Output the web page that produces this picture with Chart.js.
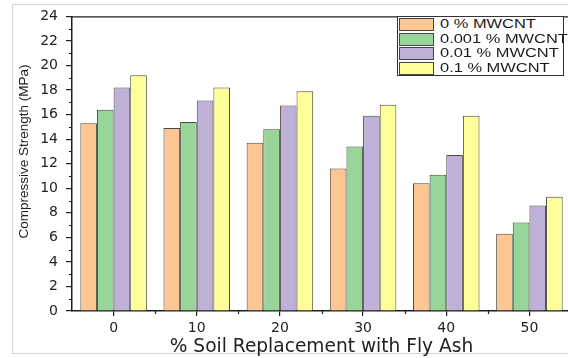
<!DOCTYPE html>
<html>
<head>
<meta charset="utf-8">
<script src="https://cdn.jsdelivr.net/npm/chart.js@4.4.1/dist/chart.umd.min.js"></script>
<style>
  html, body { margin: 0; padding: 0; background: #fff; overflow: hidden; }
  #wrap { position: relative; width: 568px; height: 358px; overflow: hidden; }
  #frame { position: absolute; left: 12px; top: 4px; width: 620px; height: 350px; border: 1px solid #d4d4d4; box-sizing: border-box; }
  #chart { position: absolute; left: 0; top: 0; }
  #legend { position: absolute; left: 397px; top: 16px; width: 167px; height: 60px; border: 1px solid #333; background: #fff; box-sizing: border-box; }
  .row { position: absolute; left: 1px; height: 13px; }
  .sw { position: absolute; left: 0; top: 0; width: 35px; height: 13px; border: 1px solid #444; box-sizing: border-box; }
  .lbl { position: absolute; left: 41px; top: -1px; white-space: nowrap; font: 12px 'Liberation Sans', Arial, sans-serif; color: #1a1a1a; transform: scaleX(1.37); transform-origin: left center; line-height: 15px; }
</style>
</head>
<body>
<div id="wrap">
  <div id="frame"></div>
  <canvas id="chart" width="574" height="358"></canvas>
  <div id="legend"></div>
</div>
<script>
const categories = ['0', '10', '20', '30', '40', '50'];
const seriesNames = ['0 % MWCNT', '0.001 % MWCNT', '0.01 % MWCNT', '0.1 % MWCNT'];
const mw0 = [15.3, 14.9, 13.7, 11.6, 10.4, 6.3];
const mw0001 = [16.4, 15.4, 14.8, 13.4, 11.1, 7.2];
const mw001 = [18.2, 17.15, 16.75, 15.9, 12.7, 8.6];
const mw01 = [19.2, 18.2, 17.9, 16.8, 15.9, 9.3];
const yTicksMax = 24;
const yTitle = 'Compressive Strength (MPa)';

const COLORS = {
  orange: '#FDC693',
  green: '#98D599',
  purple: '#BFB0D8',
  yellow: '#FFFF99',
  edge: '#4a4a40',
  axis: '#1e1e1e',
  text: '#222',
};
const fills = [COLORS.orange, COLORS.green, COLORS.purple, COLORS.yellow];
const values = [mw0, mw0001, mw001, mw01];

// minor ticks, top frame line and the y title (sits a bit above centre in the original)
const axisExtras = {
  id: 'axisExtras',
  afterDraw(chart) {
    const { ctx, chartArea, scales: { x, y } } = chart;
    ctx.save();
    ctx.strokeStyle = COLORS.axis;
    ctx.lineWidth = 1.2;
    ctx.beginPath();
    ctx.moveTo(chartArea.left, chartArea.top + 0.5);
    ctx.lineTo(chartArea.right + 5, chartArea.top + 0.5);
    for (let v = 1; v < yTicksMax; v += 2) {
      const py = Math.round(y.getPixelForValue(v)) + 0.5;
      ctx.moveTo(chartArea.left - 3, py);
      ctx.lineTo(chartArea.left, py);
    }
    for (let i = 1; i < categories.length; i++) {
      const px = Math.round(x.getPixelForValue(i - 0.5)) + 0.5;
      ctx.moveTo(px, chartArea.bottom);
      ctx.lineTo(px, chartArea.bottom + 3);
    }
    ctx.stroke();

    ctx.translate(24, y.getPixelForValue(13));
    ctx.rotate(-Math.PI / 2);
    ctx.fillStyle = COLORS.text;
    ctx.font = "13.5px 'Liberation Sans'";
    ctx.textAlign = 'center';
    ctx.textBaseline = 'middle';
    ctx.fillText(yTitle, 0, 0);
    ctx.restore();
  },
};

new Chart(document.getElementById('chart'), {
  type: 'bar',
  data: {
    labels: categories,
    datasets: values.map((data, i) => ({
      label: seriesNames[i],
      data,
      backgroundColor: fills[i],
      borderColor: COLORS.edge,
      borderWidth: 1,
      categoryPercentage: 0.8,
      barPercentage: 1.0,
    })),
  },
  options: {
    responsive: false,
    animation: false,
    layout: { padding: { top: 11, right: 3, left: 0, bottom: 0 } },
    plugins: { legend: { display: false }, tooltip: { enabled: false } },
    scales: {
      x: {
        afterFit: (s) => { s.height = 47; },
        border: { color: COLORS.axis, width: 1.5 },
        grid: { offset: false, drawOnChartArea: false, drawTicks: true, tickLength: 5, color: COLORS.axis, lineWidth: 1.2 },
        ticks: { padding: 4, color: COLORS.text, font: { family: 'DejaVu Sans', size: 14 } },
        title: {
          display: true,
          text: '% Soil Replacement with Fly Ash',
          color: COLORS.text,
          font: { family: 'DejaVu Sans', size: 18.6 },
          padding: { top: 0, bottom: 0 },
        },
      },
      y: {
        min: 0,
        max: yTicksMax,
        afterFit: (s) => { s.width = 72; },
        border: { color: COLORS.axis, width: 1.5 },
        grid: { drawOnChartArea: false, drawTicks: true, tickLength: 6, color: COLORS.axis, lineWidth: 1.2 },
        ticks: { stepSize: 2, padding: 8, color: COLORS.text, font: { family: 'DejaVu Sans', size: 14 } },
      },
    },
  },
  plugins: [axisExtras],
});

// legend box in the upper right
const legend = document.getElementById('legend');
seriesNames.forEach((name, i) => {
  const row = document.createElement('div');
  row.className = 'row';
  row.style.top = `${1 + i * 14.7}px`;
  row.innerHTML = `<div class="sw" style="background:${fills[i]}"></div><div class="lbl">${name}</div>`;
  legend.appendChild(row);
});
</script>
</body>
</html>
